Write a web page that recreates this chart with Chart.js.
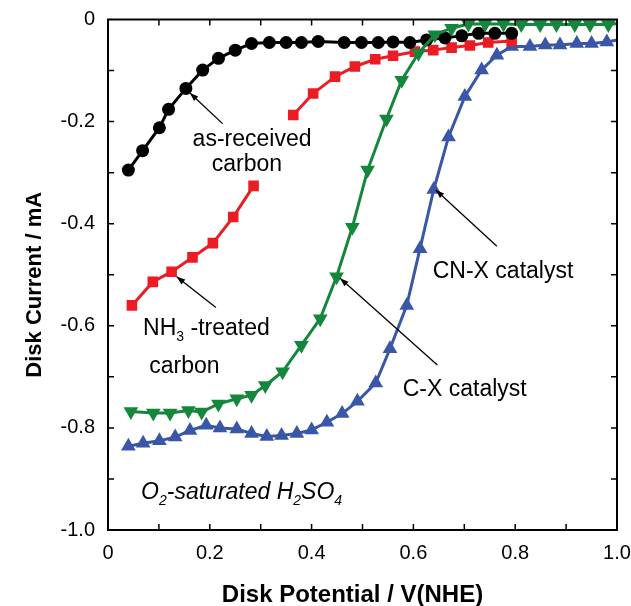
<!DOCTYPE html>
<html lang="en">
<head>
<meta charset="UTF-8">
<title>Disk Current vs Disk Potential</title>
<script src="https://cdn.jsdelivr.net/npm/chart.js"></script>
<style>
    html, body { margin: 0; padding: 0; background: #fff; }
</style>
</head>
<body>
<canvas id="rdeChart" width="631" height="606"></canvas>
<script>
// potential (V vs NHE) and disk current (mA)
const carbonX = [0.040, 0.068, 0.101, 0.119, 0.153, 0.186, 0.217, 0.250, 0.282, 0.317, 0.350, 0.380, 0.413, 0.464, 0.498, 0.531, 0.560, 0.593, 0.626, 0.662, 0.695, 0.728, 0.760, 0.793];
const carbonY = [-0.295, -0.257, -0.212, -0.176, -0.135, -0.099, -0.076, -0.060, -0.047, -0.045, -0.045, -0.045, -0.043, -0.045, -0.045, -0.045, -0.044, -0.045, -0.040, -0.036, -0.032, -0.027, -0.027, -0.027];

// NH3-treated carbon is broken into two pieces in the figure
const nh3LowX = [0.047, 0.088, 0.125, 0.166, 0.206, 0.246, 0.286];
const nh3LowY = [-0.560, -0.514, -0.494, -0.466, -0.438, -0.387, -0.326];
const nh3HighX = [0.364, 0.403, 0.446, 0.485, 0.525, 0.560, 0.603, 0.639, 0.675, 0.711, 0.747, 0.793];
const nh3HighY = [-0.187, -0.145, -0.112, -0.092, -0.078, -0.071, -0.063, -0.060, -0.055, -0.051, -0.045, -0.042];

// last point of the two catalyst curves is where the line meets the frame (no marker)
const cxX = [0.045, 0.089, 0.122, 0.158, 0.184, 0.217, 0.253, 0.282, 0.309, 0.343, 0.380, 0.417, 0.449, 0.480, 0.510, 0.547, 0.577, 0.610, 0.642, 0.675, 0.708, 0.741, 0.777, 0.812, 0.849, 0.881, 0.917, 0.947, 0.983, 1.0];
const cxY = [-0.768, -0.771, -0.771, -0.766, -0.769, -0.753, -0.743, -0.736, -0.717, -0.690, -0.638, -0.586, -0.504, -0.407, -0.295, -0.195, -0.119, -0.066, -0.030, -0.017, -0.009, -0.009, -0.009, -0.010, -0.010, -0.010, -0.010, -0.010, -0.010, -0.008];

const cnxX = [0.040, 0.069, 0.101, 0.132, 0.161, 0.193, 0.220, 0.253, 0.282, 0.312, 0.341, 0.371, 0.400, 0.430, 0.460, 0.490, 0.526, 0.554, 0.587, 0.613, 0.640, 0.669, 0.701, 0.734, 0.764, 0.793, 0.829, 0.859, 0.888, 0.921, 0.950, 0.980, 1.0];
const cnxY = [-0.836, -0.830, -0.825, -0.818, -0.805, -0.795, -0.800, -0.802, -0.811, -0.817, -0.815, -0.811, -0.804, -0.789, -0.772, -0.748, -0.712, -0.645, -0.560, -0.449, -0.333, -0.230, -0.151, -0.099, -0.070, -0.053, -0.053, -0.050, -0.050, -0.047, -0.047, -0.044, -0.040];

const xTicks = [0, 0.2, 0.4, 0.6, 0.8, 1.0];
const yTicks = [0, -0.2, -0.4, -0.6, -0.8, -1.0];

// labels and arrows drawn on the plot (data coordinates)
const labels = [
    { x: 0.283, y: -0.236, text: 'as-received', align: 'center' },
    { x: 0.273, y: -0.285, text: 'carbon', align: 'center' },
    { x: 0.069, y: -0.605, parts: [['NH', 0], ['3', 1], [' -treated', 0]] },
    { x: 0.081, y: -0.681, text: 'carbon' },
    { x: 0.638, y: -0.494, text: 'CN-X catalyst' },
    { x: 0.579, y: -0.726, text: 'C-X catalyst' },
    { x: 0.065, y: -0.926, italic: true, parts: [['O', 0], ['2', 1], ['-saturated H', 0], ['2', 1], ['SO', 0], ['4', 1]] }
];
const arrows = [
    { from: [0.225, -0.204], to: [0.161, -0.144] },
    { from: [0.212, -0.564], to: [0.135, -0.504] },
    { from: [0.764, -0.444], to: [0.644, -0.334] },
    { from: [0.647, -0.677], to: [0.456, -0.507] }
];

const FONT = '"Liberation Sans", Arial, sans-serif';

function pts(xs, ys) {
    return xs.map((x, i) => ({ x: x, y: ys[i] }));
}

// hide the marker on the final (edge) point
function noLastMarker(r) {
    return ctx => ctx.dataIndex === ctx.dataset.data.length - 1 ? 0 : r;
}

const frame = {
    id: 'frame',
    afterDatasetsDraw(chart) {
        const ctx = chart.ctx;
        const a = chart.chartArea;
        const sx = chart.scales.x, sy = chart.scales.y;
        ctx.save();
        ctx.strokeStyle = '#000';
        ctx.lineWidth = 2;
        ctx.strokeRect(a.left, a.top, a.right - a.left, a.bottom - a.top);
        ctx.lineWidth = 1.5;
        ctx.beginPath();
        for (let i = 1; i < 10; i++) {
            const px = sx.getPixelForValue(i / 10);
            ctx.moveTo(px, a.bottom); ctx.lineTo(px, a.bottom - 6);
            ctx.moveTo(px, a.top); ctx.lineTo(px, a.top + 6);
            const py = sy.getPixelForValue(-i / 10);
            ctx.moveTo(a.left, py); ctx.lineTo(a.left + 6, py);
            ctx.moveTo(a.right, py); ctx.lineTo(a.right - 6, py);
        }
        ctx.stroke();

        // arrows
        ctx.lineWidth = 1.3;
        ctx.fillStyle = '#000';
        arrows.forEach(ar => {
            const x1 = sx.getPixelForValue(ar.from[0]), y1 = sy.getPixelForValue(ar.from[1]);
            const x2 = sx.getPixelForValue(ar.to[0]), y2 = sy.getPixelForValue(ar.to[1]);
            const ang = Math.atan2(y2 - y1, x2 - x1);
            ctx.beginPath();
            ctx.moveTo(x1, y1); ctx.lineTo(x2, y2);
            ctx.stroke();
            ctx.beginPath();
            ctx.moveTo(x2, y2);
            ctx.lineTo(x2 - 9 * Math.cos(ang - 0.35), y2 - 9 * Math.sin(ang - 0.35));
            ctx.lineTo(x2 - 9 * Math.cos(ang + 0.35), y2 - 9 * Math.sin(ang + 0.35));
            ctx.closePath();
            ctx.fill();
        });

        // text
        ctx.textBaseline = 'middle';
        labels.forEach(lb => {
            const style = lb.italic ? 'italic ' : '';
            const px = sx.getPixelForValue(lb.x), py = sy.getPixelForValue(lb.y);
            if (lb.text) {
                ctx.font = style + '23px ' + FONT;
                ctx.textAlign = lb.align || 'left';
                ctx.fillText(lb.text, px, py);
                return;
            }
            ctx.textAlign = 'left';
            let cx = px;
            lb.parts.forEach(([t, sub]) => {
                ctx.font = style + (sub ? '14px ' : '23px ') + FONT;
                ctx.fillText(t, cx, sub ? py + 9 : py);
                cx += ctx.measureText(t).width;
            });
        });

        // axis titles, sit a little off the plot centre as in the figure
        ctx.textAlign = 'center';
        ctx.font = 'bold 24px ' + FONT;
        ctx.fillText('Disk Potential / V(NHE)', (a.left + a.right) / 2 - 10, 595);
        ctx.translate(35, (a.top + a.bottom) / 2 + 10);
        ctx.rotate(-Math.PI / 2);
        ctx.font = 'bold 22px ' + FONT;
        ctx.fillText('Disk Current / mA', 0, 0);
        ctx.restore();
    }
};

const ctx = document.getElementById('rdeChart').getContext('2d');
const rdeChart = new Chart(ctx, {
    type: 'scatter',
    data: {
        datasets: [
            {
                label: 'C-X catalyst',
                data: pts(cxX, cxY),
                borderColor: '#15873d', backgroundColor: '#15873d',
                pointStyle: 'triangle', rotation: 180, pointRadius: noLastMarker(8.5)
            },
            {
                label: 'as-received carbon',
                data: pts(carbonX, carbonY),
                borderColor: '#000', backgroundColor: '#000',
                pointStyle: 'circle', pointRadius: 6.5
            },
            {
                label: 'NH3-treated carbon',
                data: pts(nh3LowX, nh3LowY),
                borderColor: '#ec1c24', backgroundColor: '#ec1c24',
                pointStyle: 'rect', pointRadius: 7.5
            },
            {
                label: 'NH3-treated carbon (high)',
                data: pts(nh3HighX, nh3HighY),
                borderColor: '#ec1c24', backgroundColor: '#ec1c24',
                pointStyle: 'rect', pointRadius: 7.5
            },
            {
                label: 'CN-X catalyst',
                data: pts(cnxX, cnxY),
                borderColor: '#3a56a6', backgroundColor: '#3a56a6',
                pointStyle: 'triangle', pointRadius: noLastMarker(8.5)
            }
        ]
    },
    options: {
        responsive: false,
        animation: false,
        showLine: true,
        elements: {
            line: { borderWidth: 3, tension: 0 },
            point: { borderWidth: 0 }
        },
        layout: { padding: { top: 19.5, right: 14, left: 0, bottom: 0 } },
        plugins: {
            legend: { display: false },
            tooltip: { enabled: false }
        },
        scales: {
            x: {
                type: 'linear',
                min: 0, max: 1,
                grid: { display: false, drawTicks: false },
                border: { display: false },
                afterBuildTicks: s => { s.ticks = xTicks.map(v => ({ value: v })); },
                afterFit: s => { s.height = 76; s.paddingLeft = 0; s.paddingRight = 0; },
                ticks: {
                    padding: 11,
                    color: '#000',
                    font: { family: FONT, size: 20 },
                    callback: v => v === 0 ? '0' : v.toFixed(1)
                }
            },
            y: {
                type: 'linear',
                min: -1, max: 0,
                grid: { display: false, drawTicks: false },
                border: { display: false },
                afterBuildTicks: s => { s.ticks = yTicks.map(v => ({ value: v })); },
                afterFit: s => { s.width = 108; s.paddingTop = 0; s.paddingBottom = 0; },
                ticks: {
                    padding: 13,
                    color: '#000',
                    font: { family: FONT, size: 20 },
                    callback: v => v === 0 ? '0' : v.toFixed(1)
                }
            }
        }
    },
    plugins: [frame]
});
</script>
</body>
</html>
